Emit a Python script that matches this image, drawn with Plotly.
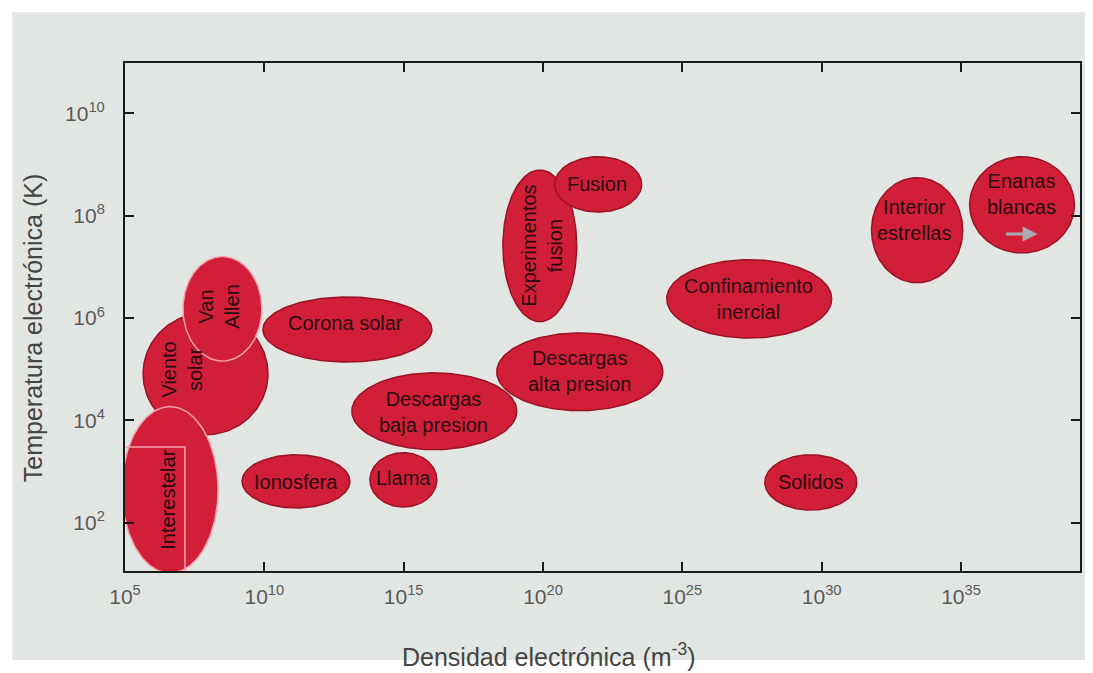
import numpy as np
import plotly.graph_objects as go

# ---- data (log10 of electron density in m^-3 and electron temperature in K) ----
regions = ["Interestelar", "Viento solar", "Van Allen", "Corona solar", "Ionosfera",
           "Llama", "Descargas baja presion", "Descargas alta presion",
           "Experimentos fusion", "Fusion", "Confinamiento inercial",
           "Interior estrellas", "Enanas blancas", "Solidos"]
labels = ["Interestelar", "Viento<br>solar", "Van<br>Allen", "Corona solar", "Ionosfera",
          "Llama", "Descargas<br>baja presion", "Descargas<br>alta presion",
          "Experimentos<br>fusion", "Fusion", "Confinamiento<br>inercial",
          "Interior<br>estrellas", "Enanas<br>blancas", "Solidos"]
dens_lo = [4.89, 5.65, 7.08, 9.95, 9.20, 13.79, 13.14, 18.34, 18.56, 20.42, 24.44, 31.79, 35.31, 27.96]
dens_hi = [8.34, 10.13, 9.91, 16.01, 13.07, 16.19, 19.06, 24.30, 21.21, 23.54, 30.36, 35.06, 39.07, 31.26]
temp_lo = [1.02, 3.72, 5.16, 5.14, 2.29, 2.31, 3.43, 4.19, 5.93, 8.07, 5.61, 6.69, 7.27, 2.25]
temp_hi = [4.27, 6.10, 7.20, 6.41, 3.33, 3.37, 4.93, 5.71, 8.89, 9.15, 7.14, 8.74, 9.15, 3.33]
label_dens = [6.54, 7.04, 8.37, 12.93, 11.13, 15.01, 16.08, 21.32, 19.96, 21.93, 27.38, 33.30, 37.17, 29.61]
label_temp = [2.45, 4.99, 6.22, 5.91, 2.80, 2.88, 4.17, 4.97, 7.41, 8.62, 6.38, 7.92, 8.43, 2.80]
label_angle = [-90, -90, -90, 0, 0, 0, 0, 0, -90, 0, 0, 0, 0, 0]

# interstellar box (log10 units)
box_dens = [5.0, 7.15]
box_temp = [0.9, 3.48]
# white-dwarf arrow (log10 units)
arrow_dens = [36.56, 37.75]
arrow_temp = 7.64

x_tick_exp = [5, 10, 15, 20, 25, 30, 35]
y_tick_exp = [2, 4, 6, 8, 10]
x_range = [5.0, 39.27]
y_range = [1.06, 10.98]

FILL = "#d11f3a"
EDGE = "#9a1226"
PALE = "#f2a2ad"
TXT = "#2a0c10"
BG = "#e2e6e2"
FONT = "Liberation Sans, Arial"

fig = go.Figure()

shapes = []
# gray panel behind everything
shapes.append(dict(type="rect", xref="paper", yref="paper",
                   x0=-0.118, x1=1.009, y0=-0.175, y1=1.100,
                   fillcolor=BG, line=dict(width=0), layer="below"))

t = np.linspace(0, 2 * np.pi, 181)
draw_order = [1, 0, 2, 3, 4, 5, 6, 7, 8, 9, 10, 11, 12, 13]
for i in draw_order:
    edge = PALE if regions[i] in ("Interestelar", "Van Allen") else EDGE
    cx = (dens_lo[i] + dens_hi[i]) / 2
    cy = (temp_lo[i] + temp_hi[i]) / 2
    rx = (dens_hi[i] - dens_lo[i]) / 2
    ry = (temp_hi[i] - temp_lo[i]) / 2
    fig.add_trace(go.Scatter(x=10.0 ** (cx + rx * np.cos(t)),
                             y=10.0 ** (cy + ry * np.sin(t)),
                             mode="lines", fill="toself", fillcolor=FILL,
                             line=dict(color=edge, width=1.5),
                             name=regions[i], hoverinfo="name", showlegend=False))
    if regions[i] == "Interestelar":
        bx = [box_dens[0], box_dens[1], box_dens[1], box_dens[0]]
        by = [box_temp[0], box_temp[0], box_temp[1], box_temp[1]]
        fig.add_trace(go.Scatter(x=[10.0 ** v for v in bx], y=[10.0 ** v for v in by],
                                 mode="lines", line=dict(color=PALE, width=1.5),
                                 hoverinfo="skip", showlegend=False))

annotations = []
for i in range(len(regions)):
    annotations.append(dict(x=label_dens[i], y=label_temp[i], xref="x", yref="y",
                            text=labels[i], showarrow=False, textangle=label_angle[i],
                            font=dict(family=FONT, size=20, color=TXT)))

annotations.append(dict(x=arrow_dens[1], y=arrow_temp, ax=arrow_dens[0], ay=arrow_temp,
                        xref="x", yref="y", axref="x", ayref="y", text="",
                        showarrow=True, arrowhead=2, arrowsize=1, arrowwidth=3,
                        arrowcolor="#a9a9b0"))

# axis titles
annotations.append(dict(x=0.443, y=-0.165, xref="paper", yref="paper",
                        xanchor="center", yanchor="middle",
                        text="Densidad electrónica (m<sup>-3</sup>)", showarrow=False,
                        font=dict(family=FONT, size=25, color="#444444")))
annotations.append(dict(x=-0.0963, y=0.478, xref="paper", yref="paper",
                        xanchor="center", yanchor="middle",
                        text="Temperatura electrónica (K)", showarrow=False, textangle=-90,
                        font=dict(family=FONT, size=25, color="#444444")))

fig.update_layout(
    width=1085, height=665,
    margin=dict(l=117, r=13, t=55, b=102),
    paper_bgcolor="white", plot_bgcolor=BG,
    shapes=shapes, annotations=annotations, showlegend=False,
)
fig.update_xaxes(type="log", range=x_range, showgrid=False, zeroline=False,
                 showline=True, linecolor="#1a1a1a", linewidth=2, mirror="ticks",
                 ticks="inside", ticklen=9, tickwidth=1.5, tickcolor="#1a1a1a",
                 tickvals=[10.0 ** e for e in x_tick_exp],
                 ticktext=["10<sup>%d</sup>" % e for e in x_tick_exp],
                 tickfont=dict(family=FONT, size=21, color="#5a5a5a"),
                 ticklabelstandoff=6)
fig.update_yaxes(type="log", range=y_range, showgrid=False, zeroline=False,
                 showline=True, linecolor="#1a1a1a", linewidth=2, mirror="ticks",
                 ticks="inside", ticklen=9, tickwidth=1.5, tickcolor="#1a1a1a",
                 tickvals=[10.0 ** e for e in y_tick_exp],
                 ticktext=["10<sup>%d</sup>" % e for e in y_tick_exp],
                 tickfont=dict(family=FONT, size=21, color="#5a5a5a"),
                 ticklabelstandoff=14)

fig.write_html("out.html")
